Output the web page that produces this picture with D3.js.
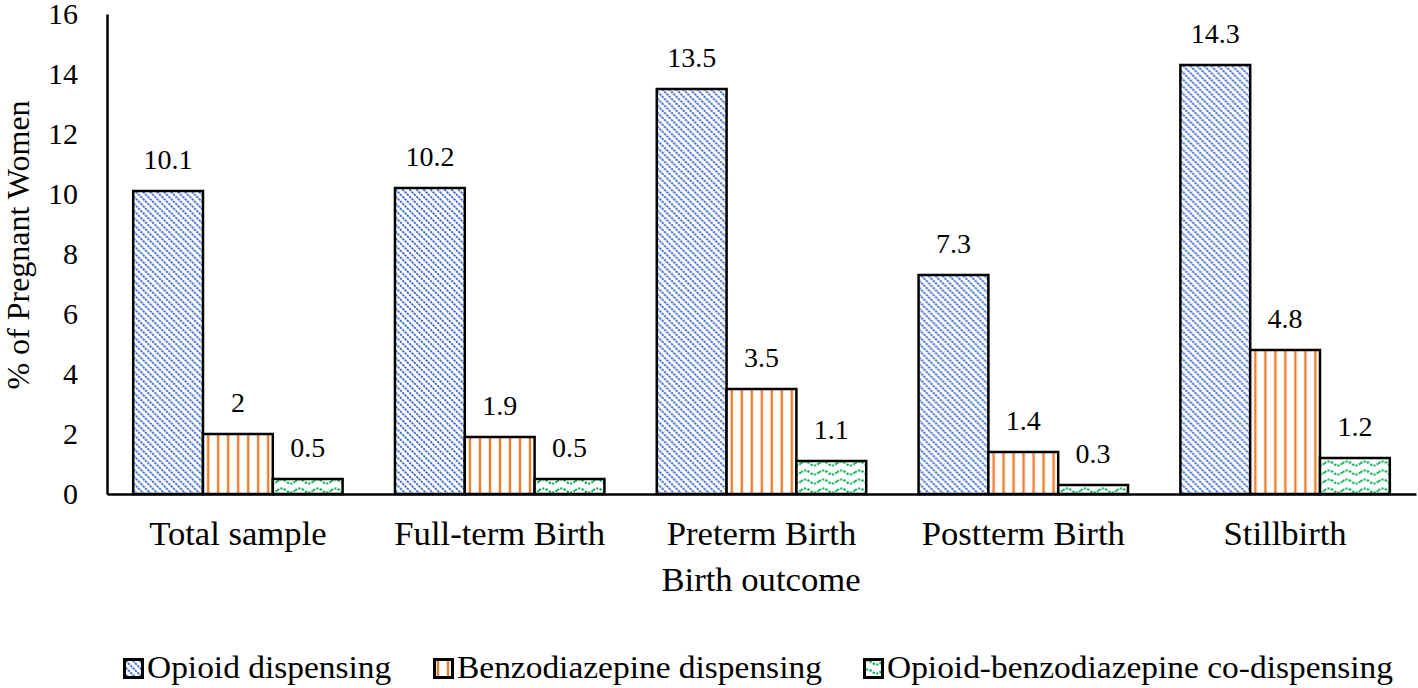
<!DOCTYPE html>
<html>
<head>
<meta charset="utf-8">
<script src="https://cdn.jsdelivr.net/npm/d3@7"></script>
<style>
  html, body { margin: 0; padding: 0; background: #fff; }
  svg { display: block; font-family: "Liberation Serif", "Times New Roman", serif; }
</style>
</head>
<body>
<svg id="chart" width="1418" height="688"></svg>
<script>
const categories = ["Total sample", "Full-term Birth", "Preterm Birth", "Postterm Birth", "Stillbirth"];
const seriesNames = ["Opioid dispensing", "Benzodiazepine dispensing", "Opioid-benzodiazepine co-dispensing"];
const opioid = [10.1, 10.2, 13.5, 7.3, 14.3];
const benzo = [2, 1.9, 3.5, 1.4, 4.8];
const coDispensing = [0.5, 0.5, 1.1, 0.3, 1.2];
const yTicks = [0, 2, 4, 6, 8, 10, 12, 14, 16];
const yLabel = "% of Pregnant Women";
const xLabel = "Birth outcome";

const seriesValues = [opioid, benzo, coDispensing];
const patternIds = ["pOpioid", "pBenzo", "pCo"];

const svg = d3.select("#chart");
const defs = svg.append("defs");

// Opioid: blue downward diagonal dotted lines
const p1 = defs.append("pattern").attr("id", "pOpioid").attr("patternUnits", "userSpaceOnUse")
  .attr("width", 7).attr("height", 7);
p1.append("rect").attr("width", 7).attr("height", 7).attr("fill", "#fff");
p1.append("path").attr("d", "M-2,-2 L9,9 M-2,5 L2,9 M5,-2 L9,2")
  .attr("stroke", "#3F6FD0").attr("stroke-width", 1.9).attr("stroke-dasharray", "2.4,0.9");

// Benzo: orange vertical lines
const p2 = defs.append("pattern").attr("id", "pBenzo").attr("patternUnits", "userSpaceOnUse")
  .attr("width", 10).attr("height", 10);
p2.append("rect").attr("width", 10).attr("height", 10).attr("fill", "#fff");
p2.append("line").attr("x1", 5).attr("x2", 5).attr("y1", 0).attr("y2", 10)
  .attr("stroke", "#ED7D31").attr("stroke-width", 2.4);

// Co-dispensing: green wavy dotted lines
const p3 = defs.append("pattern").attr("id", "pCo").attr("patternUnits", "userSpaceOnUse")
  .attr("width", 18).attr("height", 9);
p3.append("rect").attr("width", 18).attr("height", 9).attr("fill", "#fff");
p3.append("path").attr("d", "M0,4.5 Q4.5,0.5 9,4.5 T18,4.5")
  .attr("fill", "none").attr("stroke", "#00B050").attr("stroke-width", 2.2).attr("stroke-dasharray", "2.2,1.4");

const mLeft = 107, mRight = 1416, mTop = 14, mBottom = 494;

const x0 = d3.scaleBand().domain(categories).range([mLeft, mRight]).paddingInner(0.2).paddingOuter(0.1);
const x1 = d3.scaleBand().domain(d3.range(seriesNames.length)).range([0, x0.bandwidth()]);
const y = d3.scaleLinear().domain([0, 16]).range([mBottom, mTop]);

// Y axis
const yAxis = svg.append("g").attr("transform", `translate(${mLeft},0)`)
  .call(d3.axisLeft(y).tickValues(yTicks).tickSize(0).tickPadding(29).tickFormat(d3.format("d")));
yAxis.select(".domain").attr("stroke", "#000").attr("stroke-width", 2.5);
yAxis.selectAll("text").attr("font-size", 30).attr("fill", "#000")
  .attr("font-family", '"Liberation Serif", serif');

// Bars
categories.forEach((c, ci) => {
  const g = svg.append("g").attr("transform", `translate(${x0(c)},0)`);
  seriesValues.forEach((vals, si) => {
    const v = vals[ci];
    g.append("rect")
      .attr("x", x1(si)).attr("y", y(v))
      .attr("width", x1.bandwidth()).attr("height", y(0) - y(v))
      .attr("fill", `url(#${patternIds[si]})`)
      .attr("stroke", "#000").attr("stroke-width", 2.5);
    g.append("text")
      .attr("x", x1(si) + x1.bandwidth() / 2).attr("y", y(v) - 22)
      .attr("text-anchor", "middle").attr("font-size", 28).attr("fill", "#000")
      .text(String(v));
  });
});

// X axis
const xAxis = svg.append("g").attr("transform", `translate(0,${mBottom})`)
  .call(d3.axisBottom(x0).tickSize(0).tickPadding(28).tickSizeOuter(0));
xAxis.select(".domain").attr("stroke", "#000").attr("stroke-width", 2.5);
xAxis.selectAll("text").attr("font-size", 33).attr("fill", "#000")
  .attr("font-family", '"Liberation Serif", serif')
  .attr("transform", "scale(1.05,1)");

// Axis titles
svg.append("text")
  .attr("transform", `translate(29,245) rotate(-90)`)
  .attr("text-anchor", "middle").attr("font-size", 32).attr("fill", "#000")
  .text(yLabel);
svg.append("text")
  .attr("transform", "translate(761,591) scale(1.05,1)")
  .attr("text-anchor", "middle").attr("font-size", 33).attr("fill", "#000")
  .text(xLabel);

// Legend
const legendX = [123, 433, 863];
const legend = svg.append("g");
seriesNames.forEach((name, i) => {
  const g = legend.append("g").attr("transform", `translate(${legendX[i]},658)`);
  g.append("rect").attr("x", 1.5).attr("y", 1.5).attr("width", 18).attr("height", 18)
    .attr("fill", `url(#${patternIds[i]})`).attr("stroke", "#000").attr("stroke-width", 3);
  g.append("text").attr("transform", "translate(24,20) scale(1.045,1)")
    .attr("font-size", 32).attr("fill", "#000").text(name);
});
</script>
</body>
</html>
